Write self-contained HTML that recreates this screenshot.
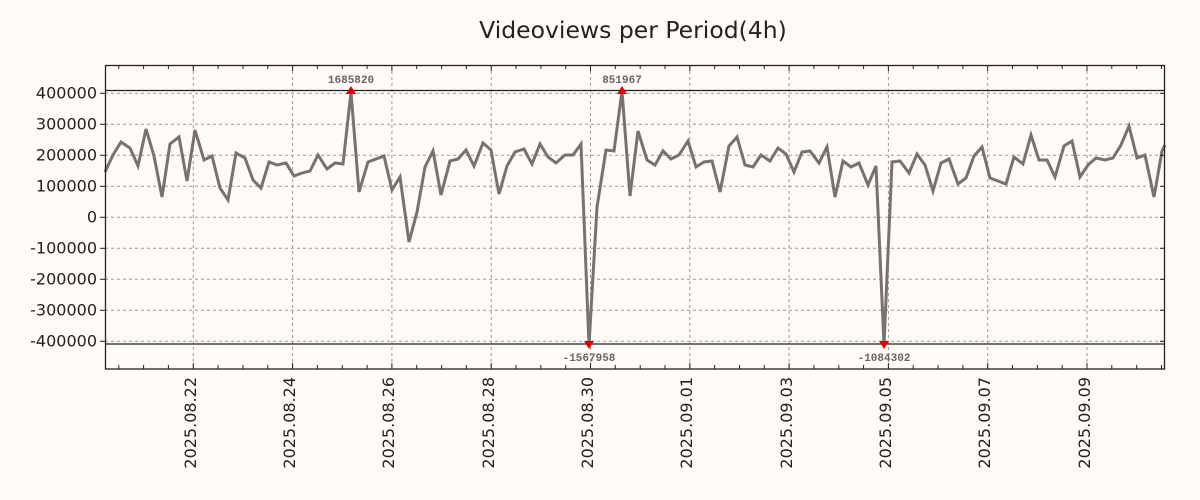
<!DOCTYPE html>
<html><head><meta charset="utf-8"><style>
html,body{margin:0;padding:0;background:#fffaf5;}
svg{display:block;font-family:"DejaVu Sans","Liberation Sans",sans-serif;}
</style></head><body>
<svg width="1200" height="500" viewBox="0 0 1200 500" xmlns="http://www.w3.org/2000/svg">
<rect width="1200" height="500" fill="#fffaf5"/>
<text x="633" y="38" font-size="23.5" text-anchor="middle" fill="#222">Videoviews per Period(4h)</text>
<g stroke="#999" stroke-width="1" stroke-dasharray="3,3">
<line x1="105" x2="1165" y1="93.3" y2="93.3"/><line x1="105" x2="1165" y1="124.3" y2="124.3"/>
<line x1="105" x2="1165" y1="155.3" y2="155.3"/><line x1="105" x2="1165" y1="186.3" y2="186.3"/>
<line x1="105" x2="1165" y1="217.3" y2="217.3"/><line x1="105" x2="1165" y1="248.3" y2="248.3"/>
<line x1="105" x2="1165" y1="279.3" y2="279.3"/><line x1="105" x2="1165" y1="310.3" y2="310.3"/>
<line x1="105" x2="1165" y1="341.3" y2="341.3"/>
<line x1="193.3" x2="193.3" y1="65" y2="369"/><line x1="292.6" x2="292.6" y1="65" y2="369"/>
<line x1="391.9" x2="391.9" y1="65" y2="369"/><line x1="491.2" x2="491.2" y1="65" y2="369"/>
<line x1="590.5" x2="590.5" y1="65" y2="369"/><line x1="689.8" x2="689.8" y1="65" y2="369"/>
<line x1="789.1" x2="789.1" y1="65" y2="369"/><line x1="888.4" x2="888.4" y1="65" y2="369"/>
<line x1="987.7" x2="987.7" y1="65" y2="369"/><line x1="1087" x2="1087" y1="65" y2="369"/>
</g>
<line x1="105" x2="1165" y1="90.5" y2="90.5" stroke="#222" stroke-width="1.3"/>
<line x1="105" x2="1165" y1="344" y2="344" stroke="#222" stroke-width="1.3"/>
<polyline fill="none" stroke="#737373" stroke-width="3" stroke-linejoin="miter" points="105,172 113,155 121,142 130,148 138,166 146,129 154,156 162,197 170,144 179,137 187,181 195,130 204,160 212,156 220,188 228,200 236,153 245,158 253,180 261,188 269,162 277,165 286,163 294,176 302,173 310,171 318,155 327,169 335,163 343,164 351,92 359,192 368,162 376,159 384,156 392,190 400,177 409,242 417,212 425,167 433,151 441,195 450,161 458,159 466,150 474,166 483,143 491,150 499,194 507,166 515,152 524,149 532,164 540,144 548,157 556,163 565,155 573,155 581,144 589,345 597,207 606,150 614,151 622,91 630,196 638,131 647,160 655,165 663,151 671,159 679,155 688,141 696,167 704,162 712,161 720,192 729,146 737,137 745,165 753,167 761,155 770,161 778,148 786,154 794,172 802,152 810,151 819,163 827,147 835,197 843,161 851,167 859,163 868,185 876,166 884,345 892,162 900,161 909,173 917,154 925,165 933,191 941,163 949,159 958,184 966,178 974,156 982,147 990,178 998,181 1006,184 1014,157 1023,164 1031,135 1039,160 1047,160 1055,177 1064,146 1072,141 1080,177 1088,165 1096,158 1105,160 1113,158 1121,145 1129,126 1137,158 1145,155 1154,197 1162,151 1165,145"/>
<g fill="#e00000">
<polygon points="346,94 356,94 351,86"/><polygon points="617,94 627,94 622,86"/>
<polygon points="584,341 594,341 589,349"/><polygon points="879,341 889,341 884,349"/>
</g>
<g font-family="Liberation Mono,monospace" font-size="11" font-weight="bold" fill="#666" text-anchor="middle">
<text x="351" y="83">1685820</text><text x="622" y="83">851967</text>
<text x="589" y="361">-1567958</text><text x="884" y="361">-1084302</text>
</g>
<rect x="105.5" y="65.5" width="1059" height="303.5" fill="none" stroke="#222" stroke-width="1.3"/>
<g stroke="#222" stroke-width="1">
<line x1="100" x2="105" y1="93.3" y2="93.3"/><line x1="100" x2="105" y1="124.3" y2="124.3"/><line x1="100" x2="105" y1="155.3" y2="155.3"/><line x1="100" x2="105" y1="186.3" y2="186.3"/><line x1="100" x2="105" y1="217.3" y2="217.3"/><line x1="100" x2="105" y1="248.3" y2="248.3"/><line x1="100" x2="105" y1="279.3" y2="279.3"/><line x1="100" x2="105" y1="310.3" y2="310.3"/><line x1="100" x2="105" y1="341.3" y2="341.3"/>
<line x1="1165" x2="1160" y1="93.3" y2="93.3"/><line x1="1165" x2="1160" y1="124.3" y2="124.3"/><line x1="1165" x2="1160" y1="155.3" y2="155.3"/><line x1="1165" x2="1160" y1="186.3" y2="186.3"/><line x1="1165" x2="1160" y1="217.3" y2="217.3"/><line x1="1165" x2="1160" y1="248.3" y2="248.3"/><line x1="1165" x2="1160" y1="279.3" y2="279.3"/><line x1="1165" x2="1160" y1="310.3" y2="310.3"/><line x1="1165" x2="1160" y1="341.3" y2="341.3"/>
</g>
<g id="tk" stroke="#222" stroke-width="1">
<path d="M118.8 65v4M143.6 65v4M168.4 65v4M193.3 65v6M218.1 65v4M243 65v4M267.8 65v4M292.6 65v6M317.4 65v4M342.3 65v4M367.1 65v4M391.9 65v6M416.7 65v4M441.6 65v4M466.4 65v4M491.2 65v6M516 65v4M540.9 65v4M565.7 65v4M590.5 65v6M615.3 65v4M640.2 65v4M665 65v4M689.8 65v6M714.6 65v4M739.5 65v4M764.3 65v4M789.1 65v6M813.9 65v4M838.8 65v4M863.6 65v4M888.4 65v6M913.2 65v4M938.1 65v4M962.9 65v4M987.7 65v6M1012.5 65v4M1037.4 65v4M1062.2 65v4M1087 65v6M1111.8 65v4M1136.7 65v4M1161.5 65v4"/>
<path d="M118.8 369v-4M143.6 369v-4M168.4 369v-4M193.3 369v-6M218.1 369v-4M243 369v-4M267.8 369v-4M292.6 369v-6M317.4 369v-4M342.3 369v-4M367.1 369v-4M391.9 369v-6M416.7 369v-4M441.6 369v-4M466.4 369v-4M491.2 369v-6M516 369v-4M540.9 369v-4M565.7 369v-4M590.5 369v-6M615.3 369v-4M640.2 369v-4M665 369v-4M689.8 369v-6M714.6 369v-4M739.5 369v-4M764.3 369v-4M789.1 369v-6M813.9 369v-4M838.8 369v-4M863.6 369v-4M888.4 369v-6M913.2 369v-4M938.1 369v-4M962.9 369v-4M987.7 369v-6M1012.5 369v-4M1037.4 369v-4M1062.2 369v-4M1087 369v-6M1111.8 369v-4M1136.7 369v-4M1161.5 369v-4"/>
</g>
<g font-size="16" fill="#222" text-anchor="end">
<text x="97" y="98.5">400000</text><text x="97" y="129.5">300000</text><text x="97" y="160.5">200000</text><text x="97" y="191.5">100000</text><text x="97" y="222.5">0</text><text x="97" y="253.5">-100000</text><text x="97" y="284.5">-200000</text><text x="97" y="315.5">-300000</text><text x="97" y="346.5">-400000</text>
</g>
<g font-size="16" fill="#222" text-anchor="end">
<text transform="translate(196,377) rotate(-90)">2025.08.22</text>
<text transform="translate(295,377) rotate(-90)">2025.08.24</text>
<text transform="translate(394,377) rotate(-90)">2025.08.26</text>
<text transform="translate(494,377) rotate(-90)">2025.08.28</text>
<text transform="translate(593,377) rotate(-90)">2025.08.30</text>
<text transform="translate(692,377) rotate(-90)">2025.09.01</text>
<text transform="translate(792,377) rotate(-90)">2025.09.03</text>
<text transform="translate(891,377) rotate(-90)">2025.09.05</text>
<text transform="translate(990,377) rotate(-90)">2025.09.07</text>
<text transform="translate(1090,377) rotate(-90)">2025.09.09</text>
</g>
</svg>
</body></html>
